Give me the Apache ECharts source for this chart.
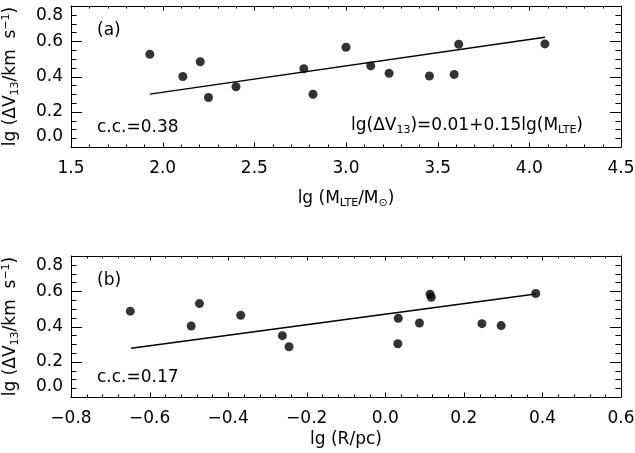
<!DOCTYPE html>
<html><head><meta charset="utf-8">
<script src="https://cdn.jsdelivr.net/npm/echarts@6/dist/echarts.min.js"></script>
<style>html,body{margin:0;padding:0;background:#fff}#c{width:635px;height:453px}</style>
</head><body><div id="c"></div>
<script>
// panel (a): lg(M_LTE/Msun) vs lg(dV13)
const massX = [1.93, 2.11, 2.205, 2.25, 2.40, 2.77, 2.82, 3.00, 3.135, 3.235, 3.455, 3.59, 3.615, 4.085];
const massY = [0.526, 0.400, 0.484, 0.281, 0.342, 0.444, 0.299, 0.566, 0.460, 0.418, 0.403, 0.412, 0.583, 0.585];
const massFitX = [1.93, 4.085];
const massFitY = [0.300, 0.623];
// panel (b): lg(R/pc) vs lg(dV13)
const radiusX = [-0.649, -0.494, -0.473, -0.368, -0.262, -0.245, 0.033, 0.032, 0.087, 0.114, 0.117, 0.246, 0.295, 0.383];
const radiusY = [0.487, 0.403, 0.530, 0.464, 0.348, 0.285, 0.447, 0.302, 0.420, 0.583, 0.566, 0.416, 0.405, 0.587];
const radiusFitX = [-0.647, 0.383];
const radiusFitY = [0.276, 0.585];
// tick labels
const massTickLabels = ['1.5', '2.0', '2.5', '3.0', '3.5', '4.0', '4.5'];
const radiusTickLabels = ['\u22120.8', '\u22120.6', '\u22120.4', '\u22120.2', '0.0', '0.2', '0.4', '0.6'];
const velTickLabels = ['0.0', '0.2', '0.4', '0.6', '0.8'];
const massRange = [1.5, 4.5, 0.5];
const radiusRange = [-0.8, 0.6, 0.2];
const velRange = [0, 0.8, 0.2];
const xMinorSplit = 5;
const yMinorSplit = 4;
const ccTexts = ['c.c.=0.38', 'c.c.=0.17'];
const panelTags = ['(a)', '(b)'];

const FONT = 'DejaVu Sans';
const FS = 17;
const base = {fontFamily: FONT, fontSize: FS, color: '#000'};
const richName = {
  t: Object.assign({}, base),
  s: {fontFamily: FONT, fontSize: 11, color: '#000', padding: [9, 0, 0, 0]},
  p: {fontFamily: FONT, fontSize: 11, color: '#000', padding: [0, 0, 9, 0]}
};
const axLine = () => ({show: true, onZero: false, lineStyle: {color: '#000', width: 1}});
const pick = (labels, range, v) => {
  const k = Math.round((v - range[0]) / range[2]);
  return labels[k] !== undefined ? labels[k] : '';
};

function xAxisPair(grid, range, labels, name, gap) {
  const common = () => ({
    type: 'value', gridIndex: grid, min: range[0], max: range[1], interval: range[2],
    axisLine: axLine(), splitLine: {show: false},
    axisTick: {show: false}
  });
  return [
    Object.assign(common(), {
      position: 'bottom',
      axisLabel: Object.assign({margin: 13, formatter: (v) => pick(labels, range, v)}, base),
      name: name, nameLocation: 'middle', nameGap: gap,
      nameTextStyle: Object.assign({rich: richName}, base)
    }),
    Object.assign(common(), {position: 'top', axisLabel: {show: false}})
  ];
}
function yAxisPair(grid) {
  const common = () => ({
    type: 'value', gridIndex: grid, min: velRange[0], max: velRange[1], interval: velRange[2],
    axisLine: axLine(), splitLine: {show: false},
    axisTick: {show: false}
  });
  return [
    Object.assign(common(), {
      position: 'left',
      axisLabel: Object.assign({
        margin: 8,
        formatter: (v) => {
          const k = Math.round(v / velRange[2]);
          const s = pick(velTickLabels, velRange, v);
          if (k === 0) return '{lo|' + s + '}';
          if (k === velTickLabels.length - 1) return '{hi|' + s + '}';
          return s;
        },
        rich: {
          lo: Object.assign({padding: [0, 0, 20, 0]}, base),
          hi: Object.assign({padding: [20, 0, 0, 0]}, base)
        }
      }, base),
      name: '{t|lg (\u0394V}{s|13}{t|/km  s}{p|\u22121}{t|)}',
      nameLocation: 'middle', nameGap: 50, nameRotate: 90,
      nameTextStyle: Object.assign({rich: richName}, base)
    }),
    Object.assign(common(), {position: 'right', axisLabel: {show: false}})
  ];
}

// tick positions (major + minor) for one axis range: [axisFlag, value, isMajor]
function tickList(flag, range, split) {
  const out = [];
  const n = Math.round((range[1] - range[0]) / range[2]);
  for (let i = 0; i <= n * split; i++) {
    const v = range[0] + i * range[2] / split;
    out.push([flag, v, i % split === 0 ? 1 : 0]);
  }
  return out;
}
function tickSeries(axisIdx, xr, yr) {
  return {
    type: 'custom', xAxisIndex: axisIdx, yAxisIndex: axisIdx, silent: true, z: 5,
    clip: false,
    data: tickList(0, xr, xMinorSplit).concat(tickList(1, yr, yMinorSplit)),
    renderItem: function (params, api) {
      const flag = api.value(0), v = api.value(1), major = api.value(2);
      const st = {stroke: '#000', lineWidth: 1, fill: null};
      if (flag === 0) {
        const len = major ? 4.5 : 2.5;
        const b = api.coord([v, yr[0]]), t = api.coord([v, yr[1]]);
        const x = Math.round(b[0]) + 0.5;
        return {type: 'group', children: [
          {type: 'line', shape: {x1: x, y1: b[1], x2: x, y2: b[1] - len}, style: st},
          {type: 'line', shape: {x1: x, y1: t[1], x2: x, y2: t[1] + len}, style: st}
        ]};
      }
      const len = major ? 11 : 5.5;
      const l = api.coord([xr[0], v]), r = api.coord([xr[1], v]);
      const y = Math.round(l[1]) + 0.5;
      return {type: 'group', children: [
        {type: 'line', shape: {x1: l[0], y1: y, x2: l[0] + len, y2: y}, style: st},
        {type: 'line', shape: {x1: r[0], y1: y, x2: r[0] - len, y2: y}, style: st}
      ]};
    }
  };
}

const pts = (xs, ys) => xs.map((x, i) => [x, ys[i]]);
const fitLine = (xs, ys) => ({
  silent: true, symbol: ['none', 'none'], label: {show: false},
  lineStyle: {color: '#000', width: 1.5, type: 'solid'},
  emphasis: {disabled: true},
  data: [[{coord: [xs[0], ys[0]]}, {coord: [xs[1], ys[1]]}]]
});
const note = (text, pos, extra) => Object.assign({
  text: text, padding: 0,
  textStyle: Object.assign({fontFamily: FONT, fontSize: FS, fontWeight: 'normal', color: '#000'}, extra || {})
}, pos);

const chart = echarts.init(document.getElementById('c'));
chart.setOption({
  animation: false,
  title: [
    note(panelTags[0], {left: 97, top: 22}),
    note(panelTags[1], {left: 97, top: 272}),
    note(ccTexts[0], {left: 97, top: 119}),
    note(ccTexts[1], {left: 97, top: 369}),
    note('{t|lg(\u0394V}{s|13}{t|)=0.01+0.15lg(M}{s|LTE}{t|)}', {right: 52, top: 116}, {rich: richName})
  ],
  grid: [
    {left: 71, right: 14, top: 6, height: 141, outerBoundsMode: 'none'},
    {left: 71, right: 14, top: 256, height: 141, outerBoundsMode: 'none'}
  ],
  xAxis: [].concat(
    xAxisPair(0, massRange, massTickLabels, '{t|lg (M}{s|LTE}{t|/M}{s|\u2299}{t|)}', 42),
    xAxisPair(1, radiusRange, radiusTickLabels, '{t|lg (R/pc)}', 34)
  ),
  yAxis: [].concat(yAxisPair(0), yAxisPair(1)),
  series: [
    tickSeries(0, massRange, velRange),
    tickSeries(2, radiusRange, velRange),
    {type: 'scatter', xAxisIndex: 0, yAxisIndex: 0, data: pts(massX, massY),
     symbol: 'circle', symbolSize: 9, itemStyle: {color: '#000'},
     markLine: fitLine(massFitX, massFitY)},
    {type: 'scatter', xAxisIndex: 2, yAxisIndex: 2, data: pts(radiusX, radiusY),
     symbol: 'circle', symbolSize: 9, itemStyle: {color: '#000'},
     markLine: fitLine(radiusFitX, radiusFitY)}
  ]
});
</script></body></html>
